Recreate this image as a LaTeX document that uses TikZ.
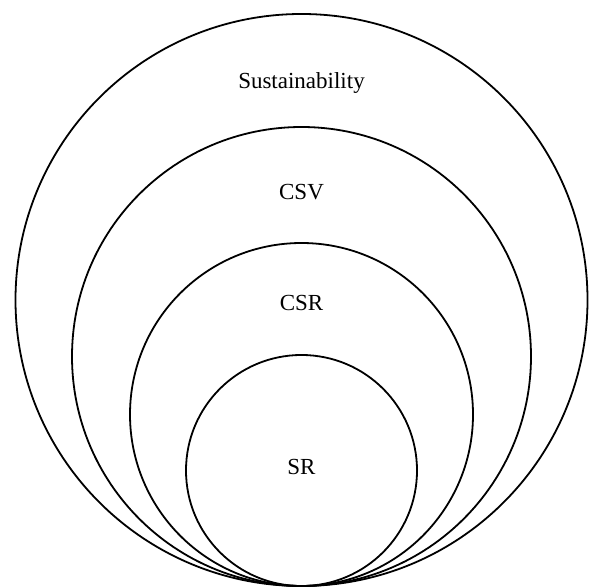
\documentclass[tikz,border=0pt]{standalone}
\usepackage{fontspec}
\setmainfont{Liberation Serif}
\usetikzlibrary{positioning}

\begin{document}
\begin{tikzpicture}[x=1pt,y=1pt,
	ring/.style={draw,circle,line width=1.8pt,inner sep=0pt},
	tag/.style={anchor=base,font=\fontsize{23}{27}\selectfont}]
	\useasboundingbox (0,0) rectangle (591,586);
	\coordinate (touch) at (301.5,0);
	% nested circles, all touching at the bottom
	\node[ring,minimum size=572pt] (sust) at (301.5,286)   {};
	\node[ring,minimum size=459pt] (csv)  at (301.5,229.5) {};
	\node[ring,minimum size=343pt] (csr)  at (301.5,171.5) {};
	\node[ring,minimum size=231pt] (sr)   at (301.5,115.5) {};
	% labels
	\node[tag] (sust-l) at (301.5,497)   {Sustainability};
	\node[tag] (csv-l)  at (301.5,386)   {CSV};
	\node[tag] (csr-l)  at (301.5,275)   {CSR};
	\node[tag] (sr-l)   at (301.5,111.5) {SR};
\end{tikzpicture}
\end{document}
